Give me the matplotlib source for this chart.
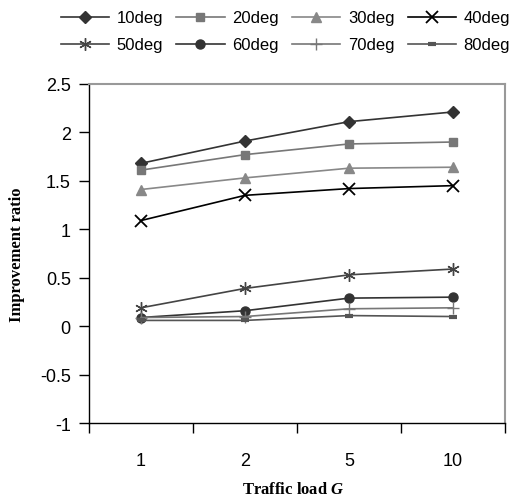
import matplotlib
matplotlib.use('Agg')
import matplotlib.pyplot as plt
from matplotlib.ticker import FixedLocator, NullFormatter

plt.rcParams['font.family'] = 'Liberation Sans'
plt.rcParams['axes.unicode_minus'] = False
plt.rcParams['mathtext.fontset'] = 'custom'
plt.rcParams['mathtext.bfit'] = 'Liberation Serif:italic:bold'

# ---- data ----
loads = ['1', '2', '5', '10']
labels = ['10deg', '20deg', '30deg', '40deg', '50deg', '60deg', '70deg', '80deg']
deg10 = [1.68, 1.91, 2.11, 2.21]
deg20 = [1.61, 1.77, 1.88, 1.90]
deg30 = [1.41, 1.53, 1.63, 1.64]
deg40 = [1.09, 1.35, 1.42, 1.45]
deg50 = [0.19, 0.39, 0.53, 0.59]
deg60 = [0.09, 0.16, 0.29, 0.30]
deg70 = [0.09, 0.10, 0.18, 0.19]
deg80 = [0.06, 0.06, 0.11, 0.10]
yticks = [-1, -0.5, 0, 0.5, 1, 1.5, 2, 2.5]
ytick_labels = ['-1', '-0.5', '0', '0.5', '1', '1.5', '2', '2.5']

series = [deg10, deg20, deg30, deg40, deg50, deg60, deg70, deg80]
styles = [
    dict(color='#333333', marker='D', ms=6),
    dict(color='#777777', marker='s', ms=6),
    dict(color='#888888', marker='^', ms=7),
    dict(color='#000000', marker='x', ms=8, mew=1.3),
    dict(color='#444444', marker=(6, 2, 0), ms=9, mew=1.0),
    dict(color='#333333', marker='o', ms=6.5),
    dict(color='#777777', marker='+', ms=9, mew=1.0),
    dict(color='#555555', marker='_', ms=6, mew=3),
]

fig = plt.figure(figsize=(5.17, 5.02), dpi=100)
ax = fig.add_axes([0.172, 0.155, 0.805, 0.676])

x = list(range(1, len(loads) + 1))
handles = []
for vals, lab, st in zip(series, labels, styles):
    h, = ax.plot(x, vals, lw=1.2, label=lab, **st)
    handles.append(h)

ax.set_xlim(0.5, len(loads) + 0.5)
ax.set_ylim(-1, 2.5)
ax.set_yticks(yticks)
ax.set_yticklabels(ytick_labels, fontsize=13)

# category boundaries get the tick marks, labels sit in the middle
ax.xaxis.set_major_locator(FixedLocator([i + 0.5 for i in range(len(loads) + 1)]))
ax.xaxis.set_major_formatter(NullFormatter())
ax.xaxis.set_minor_locator(FixedLocator(x))
ax.set_xticklabels(loads, minor=True, fontsize=13)
ax.tick_params(axis='x', which='major', direction='out', length=7, width=1)
ax.tick_params(axis='x', which='minor', length=0, pad=21)
ax.tick_params(axis='y', direction='out', length=7, width=1, pad=6)

for side in ['top', 'right']:
    ax.spines[side].set_color('#999999')
    ax.spines[side].set_linewidth(1.5)
for side in ['left', 'bottom']:
    ax.spines[side].set_color('black')
    ax.spines[side].set_linewidth(1)

ax.set_ylabel('Improvement ratio', family='Liberation Serif', fontweight='bold',
              fontsize=12, labelpad=11)
fig.text(0.567, 0.024, r'Traffic load $\mathbfit{G}$', family='Liberation Serif',
         fontweight='bold', fontsize=12, ha='center', va='center')

# legend filled row by row
order = [0, 4, 1, 5, 2, 6, 3, 7]
fig.legend([handles[i] for i in order], [labels[i] for i in order], ncol=4,
           loc='upper center', bbox_to_anchor=(0.552, 1.007),
           frameon=False, fontsize=12, handlelength=2.9, columnspacing=0.8,
           handletextpad=0.45, labelspacing=0.72)

fig.savefig('out.png', dpi=100)
